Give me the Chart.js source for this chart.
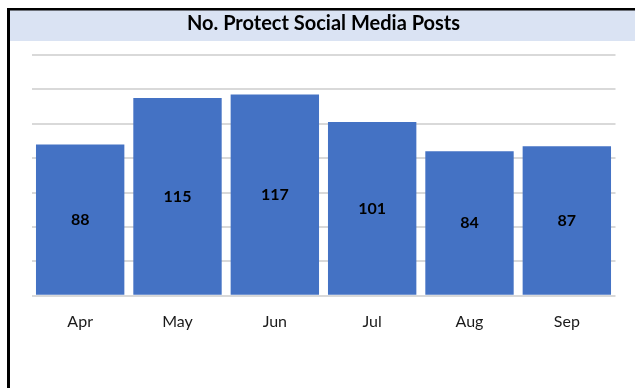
<!DOCTYPE html>
<html>
<head>
<meta charset="utf-8">
<script src="https://cdn.jsdelivr.net/npm/chart.js@4"></script>
<style>
  html, body { margin: 0; padding: 0; background: #fff; }
  #wrap { position: relative; width: 635px; height: 388px; }
</style>
</head>
<body>
<div id="wrap"><canvas id="postsChart" width="635" height="388"></canvas></div>
<script>
// monthly post counts
const months = ["Apr", "May", "Jun", "Jul", "Aug", "Sep"];
const posts = [88, 115, 117, 101, 84, 87];
const yTicks = [0, 20, 40, 60, 80, 100, 120, 140];

const barBlue = "#4472C4";
const fontName = "Lato, 'Liberation Sans', sans-serif";

// frame lines + shaded title band behind everything
const framePlugin = {
    id: "frame",
    beforeDraw(chart) {
        const ctx = chart.ctx;
        ctx.save();
        ctx.fillStyle = "#DAE3F3";
        ctx.fillRect(10, 10, chart.width - 10, 31);
        ctx.fillStyle = "#000";
        ctx.fillRect(7, 8, 3, chart.height - 8);
        ctx.fillRect(7, 8, chart.width - 7, 2.5);
        ctx.restore();
    }
};

// value written in the middle of each bar
const barValuePlugin = {
    id: "barValues",
    afterDatasetsDraw(chart) {
        const ctx = chart.ctx;
        const meta = chart.getDatasetMeta(0);
        ctx.save();
        ctx.font = "bold 16px " + fontName;
        ctx.fillStyle = "#000";
        ctx.textAlign = "center";
        ctx.textBaseline = "middle";
        meta.data.forEach(function(bar, i) {
            let mid = (bar.y + bar.base) / 2;
            ctx.fillText(String(posts[i]), bar.x, mid);
        });
        ctx.restore();
    }
};

const ctx = document.getElementById("postsChart").getContext("2d");
const chart = new Chart(ctx, {
    type: "bar",
    data: {
        labels: months,
        datasets: [{
            data: posts,
            backgroundColor: barBlue,
            borderWidth: 0,
            barPercentage: 0.908,
            categoryPercentage: 1.0
        }]
    },
    plugins: [framePlugin, barValuePlugin],
    options: {
        responsive: false,
        animation: false,
        layout: { padding: { top: 10, left: 31.5, right: 19.5, bottom: 41 } },
        plugins: {
            legend: { display: false },
            tooltip: { enabled: false },
            title: {
                display: true,
                text: "No. Protect Social Media Posts",
                color: "#000",
                font: { family: fontName, size: 20, weight: "bold" },
                padding: { top: 2, bottom: 19 }
            }
        },
        scales: {
            x: {
                grid: { display: false, drawTicks: false },
                border: { display: false },
                ticks: {
                    color: "#1a1a1a",
                    font: { family: fontName, size: 16 },
                    padding: 16
                }
            },
            y: {
                min: yTicks[0],
                max: yTicks[yTicks.length - 1],
                afterBuildTicks: function(scale) {
                    scale.ticks = yTicks.map(v => ({ value: v }));
                },
                afterFit: function(scale) { scale.width = 0; },
                grid: { color: "#D9D9D9", lineWidth: 2, drawTicks: false },
                border: { display: false },
                ticks: { display: false }
            }
        }
    }
});
</script>
</body>
</html>
